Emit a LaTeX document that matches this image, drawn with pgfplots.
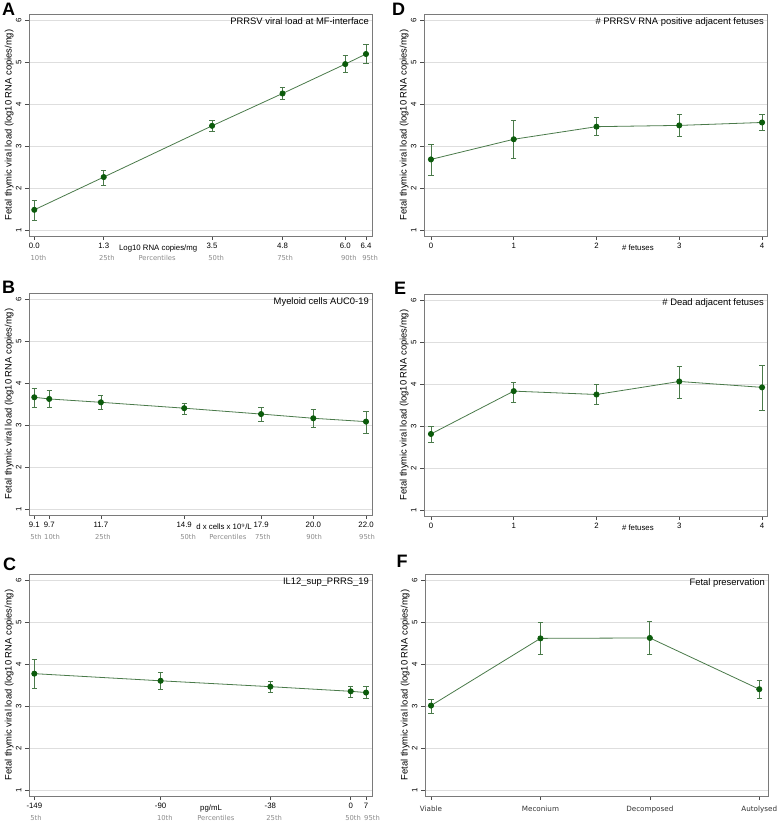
\documentclass[border=0pt]{standalone}
\usepackage{pgfplots}
\pgfplotsset{compat=1.18}
\usepackage{fontspec}
\setmainfont{Liberation Sans}
\newfontfamily\pctfont{DejaVu Sans}

\definecolor{lnGreen}{HTML}{4A7A4A}
\definecolor{dotGreen}{HTML}{0B5B0B}
\definecolor{frameGray}{HTML}{7A7A7A}
\definecolor{gridGray}{HTML}{DEDEDE}
\definecolor{pctGray}{HTML}{8A8A8A}

\pgfplotsset{
  panel/.style={
    scale only axis, width=343pt, height=222pt,
    anchor=south west, clip=false,
    ymin=0.857, ymax=6.143, ytick={1,...,6},
    ymajorgrids, grid style={gridGray, line width=0.8pt},
    axis line style={frameGray, line width=0.8pt},
    tick align=outside, tick pos=left, major tick length=4pt,
    tick style={black!70, line width=0.6pt},
    /pgf/number format/assume math mode=true,
    yticklabel style={rotate=90, anchor=south, font=\fontsize{7.8}{9}\selectfont},
    xticklabel style={font=\fontsize{7.8}{9}\selectfont},
    ylabel={Fetal thymic viral load (log10 RNA copies/mg)},
    ylabel style={at={(axis description cs:-0.058,0.5)}, anchor=center,
                  font=\fontsize{9.4}{11}\selectfont},
  },
  series/.style={color=lnGreen, line width=0.8pt, mark=*, mark size=2.6pt,
    mark options={fill=dotGreen, draw=dotGreen},
    error bars/.cd, y dir=both, y explicit,
    error bar style={lnGreen, line width=0.7pt},
    error mark options={rotate=90, lnGreen, mark size=2.6pt, line width=0.7pt}},
}
\newcommand{\ttl}[1]{\node[anchor=north east, inner sep=1pt, font=\fontsize{9.4}{11}\selectfont]
  at ([xshift=-2pt,yshift=-3pt]rel axis cs:1,1) {#1};}
\newcommand{\pct}[2]{\node[font=\pctfont\fontsize{6.8}{8}\selectfont, text=pctGray, inner sep=0pt]
  at ([yshift=-22pt]axis cs:#1,0.857) {#2};}
\newcommand{\unitlbl}[2]{\node[font=\fontsize{7.8}{9}\selectfont, inner sep=0pt]
  at ([yshift=-12pt]axis cs:#1,0.857) {#2};}

\begin{document}
\begin{tikzpicture}[x=1pt,y=1pt]

% A
\begin{axis}[panel, at={(29pt,588pt)},
  xmin=-0.102, xmax=6.516,
  xtick={0,1.34,3.43,4.79,6.0,6.4}, xticklabels={0.0,1.3,3.5,4.8,6.0,6.4}]
\addplot[series] coordinates {
  (0,1.48) += (0,0.23) -= (0,0.24)
  (1.34,2.26) += (0,0.16) -= (0,0.20)
  (3.43,3.48) += (0,0.12) -= (0,0.14)
  (4.79,4.25) += (0,0.15) -= (0,0.15)
  (6.0,4.95) += (0,0.21) -= (0,0.20)
  (6.4,5.19) += (0,0.22) -= (0,0.22)
};
\ttl{PRRSV viral load at MF-interface}
\unitlbl{2.39}{Log10 RNA copies/mg}
\pct{0.08}{10th}\pct{1.40}{25th}\pct{2.37}{Percentiles}\pct{3.51}{50th}
\pct{4.84}{75th}\pct{6.07}{90th}\pct{6.48}{95th}
\end{axis}

% D
\begin{axis}[panel, at={(424pt,588pt)},
  xmin=-0.084, xmax=4.06, xtick={0,1,2,3,4}]
\addplot[series] coordinates {
  (0,2.68) += (0,0.37) -= (0,0.39)
  (1,3.16) += (0,0.44) -= (0,0.45)
  (2,3.46) += (0,0.22) -= (0,0.21)
  (3,3.49) += (0,0.26) -= (0,0.25)
  (4,3.56) += (0,0.19) -= (0,0.19)
};
\ttl{\# PRRSV RNA positive adjacent fetuses}
\unitlbl{2.5}{\# fetuses}
\end{axis}

% B
\begin{axis}[panel, at={(29pt,309pt)},
  xmin=8.894, xmax=22.233,
  xtick={9.1,9.68,11.69,14.93,17.92,19.95,22.0},
  xticklabels={9.1,9.7,11.7,14.9,17.9,20.0,22.0}]
\addplot[series] coordinates {
  (9.1,3.66) += (0,0.22) -= (0,0.23)
  (9.68,3.62) += (0,0.21) -= (0,0.21)
  (11.69,3.54) += (0,0.16) -= (0,0.16)
  (14.93,3.40) += (0,0.12) -= (0,0.14)
  (17.92,3.26) += (0,0.16) -= (0,0.17)
  (19.95,3.16) += (0,0.21) -= (0,0.22)
  (22.0,3.08) += (0,0.25) -= (0,0.28)
};
\ttl{Myeloid cells AUC0-19}
\unitlbl{16.48}{d x cells x 10$^9$/L}
\pct{9.17}{5th}\pct{9.79}{10th}\pct{11.77}{25th}\pct{15.08}{50th}
\pct{16.63}{Percentiles}\pct{17.99}{75th}\pct{19.98}{90th}\pct{22.04}{95th}
\end{axis}

% E
\begin{axis}[panel, at={(424pt,308pt)},
  xmin=-0.084, xmax=4.06, xtick={0,1,2,3,4}]
\addplot[series] coordinates {
  (0,2.81) += (0,0.19) -= (0,0.20)
  (1,3.83) += (0,0.22) -= (0,0.27)
  (2,3.75) += (0,0.23) -= (0,0.23)
  (3,4.06) += (0,0.37) -= (0,0.39)
  (4,3.92) += (0,0.52) -= (0,0.54)
};
\ttl{\# Dead adjacent fetuses}
\unitlbl{2.5}{\# fetuses}
\end{axis}

% C
\begin{axis}[panel, at={(29pt,28pt)},
  xmin=-151.5, xmax=9.8,
  xtick={-149,-89.6,-38,-0.2,7}, xticklabels={-149,-90,-38,0,7}]
\addplot[series] coordinates {
  (-149,3.77) += (0,0.34) -= (0,0.34)
  (-89.6,3.60) += (0,0.20) -= (0,0.21)
  (-38,3.46) += (0,0.12) -= (0,0.14)
  (-0.2,3.35) += (0,0.12) -= (0,0.14)
  (7,3.32) += (0,0.14) -= (0,0.14)
};
\ttl{IL12\_sup\_PRRS\_19}
\unitlbl{-65.9}{pg/mL}
\pct{-148.2}{5th}\pct{-87.6}{10th}\pct{-63.6}{Percentiles}\pct{-36.2}{25th}
\pct{0.9}{50th}\pct{9.8}{95th}
\end{axis}

% F
\begin{axis}[panel, at={(425pt,28pt)},
  xmin=-0.055, xmax=3.08, xtick={0,1,2,3},
  xticklabels={Viable,Meconium,Decomposed,Autolysed},
  xticklabel style={font=\pctfont\fontsize{7.2}{9}\selectfont, text=black!80, yshift=-2pt}]
\addplot[series] coordinates {
  (0,3.01) += (0,0.16) -= (0,0.19)
  (1,4.61) += (0,0.38) -= (0,0.39)
  (2,4.62) += (0,0.39) -= (0,0.40)
  (3,3.40) += (0,0.20) -= (0,0.21)
};
\ttl{Fetal preservation}
\end{axis}

\begin{scope}[font=\fontsize{18}{20}\selectfont\bfseries]
\node at (8.5,814.5) {A};
\node at (398.5,814.5) {D};
\node at (8.5,537) {B};
\node at (400,535.5) {E};
\node at (9.5,260) {C};
\node at (402,263) {F};
\end{scope}

\pgfresetboundingbox
\path (0,0) rectangle (778,824);
\end{tikzpicture}
\end{document}
